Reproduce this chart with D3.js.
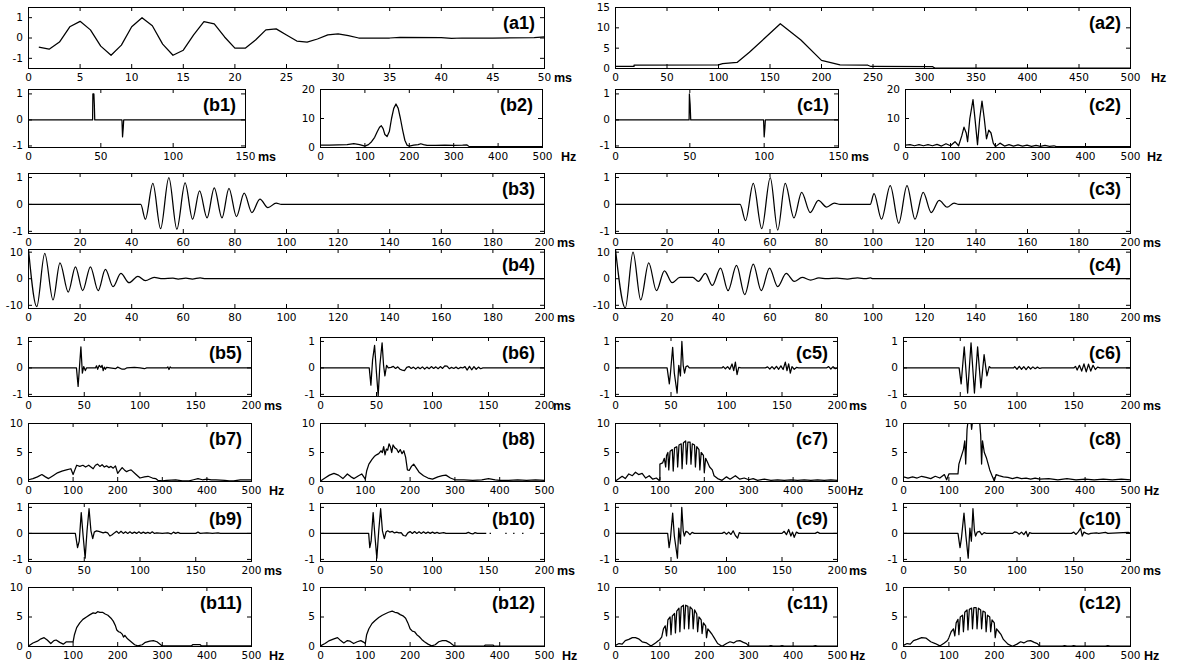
<!DOCTYPE html>
<html>
<head>
<meta charset="utf-8">
<script src="https://cdn.jsdelivr.net/npm/d3@7"></script>
<style>
  body { margin: 0; background: #fff; }
  svg { display: block; }
  .tick text { font-family: "DejaVu Sans", sans-serif; font-size: 10.5px; fill: #000; }
  .tick line { stroke: #000; }
  .unit { font-family: "Liberation Sans", Arial, sans-serif; font-weight: bold; font-size: 12.5px; fill: #000; }
  .plabel { font-family: "Liberation Sans", Arial, sans-serif; font-weight: bold; font-size: 18px; fill: #000; }
</style>
</head>
<body>
<svg id="fig" width="1184" height="670"></svg>
<script>
// ---- tick values ----
const ticksMs50 = [0, 5, 10, 15, 20, 25, 30, 35, 40, 45, 50];
const ticksHz500by50 = [0, 50, 100, 150, 200, 250, 300, 350, 400, 450, 500];
const ticksMs150 = [0, 50, 100, 150];
const ticksMs200by20 = [0, 20, 40, 60, 80, 100, 120, 140, 160, 180, 200];
const ticksMs200by50 = [0, 50, 100, 150, 200];
const ticksHz500by100 = [0, 100, 200, 300, 400, 500];
const ticksUnit = [-1, 0, 1];
const ticksAmp15 = [0, 5, 10, 15];
const ticksAmp20 = [0, 10, 20];
const ticksAmp10 = [-10, 0, 10];
const ticksSpec10 = [0, 5, 10];

// ---- series: [time ms | frequency Hz, value] ----
const a1 = [[1,-0.45],[2,-0.55],[3,-0.2],[4,0.55],[5,0.82],[6,0.4],[7,-0.4],[8,-0.85],[9,-0.35],[10,0.55],
  [11,1.0],[12,0.6],[13,-0.3],[14,-0.85],[15,-0.6],[16,0.15],[17,0.8],[18,0.7],[19,0.05],[20,-0.5],
  [21,-0.5],[22,-0.1],[23,0.4],[24,0.45],[25,0.15],[26,-0.15],[27,-0.2],[28,-0.05],[29,0.15],[30,0.2],
  [31,0.12],[32,0.0],[35,0.0],[36,0.03],[40,0.02],[41,-0.02],[42,0.0],[45,0.0],[49,0.02],[50,0.05]];
const a2 = [[0,0.5],[18,0.5],[18,0.85],[100,0.9],[104,1.2],[118,1.5],[130,4],[145,7.5],[160,11],[180,7],
  [200,2],[218,0.9],[245,0.8],[248,0.5],[308,0.45],[310,0.1],[500,0.1]];
const b1 = [[0,0],[44.3,0],[44.5,1],[45.2,1],[45.5,0.6],[45.8,0],[64.6,0],[65,-0.65],[65.5,-0.3],[65.8,0],[150,0]];
const c1 = [[0,0],[49.5,0],[49.7,1],[50.2,0.6],[50.6,0],[99.6,0],[100,-0.65],[100.5,-0.3],[100.8,0],[150,0]];
const b2 = [[0,0.8],[20,0.8],[40,0.9],[60,1.0],[75,1.3],[88,1.0],[100,0.5],[108,1.0],[115,2.0],[122,3.5],
  [128,5.5],[133,7.0],[137,7.5],[141,6.5],[145,4.5],[150,3.8],[155,5.5],[160,10],[165,13.5],[170,15],
  [175,13.5],[180,10],[185,6],[190,2.5],[195,0.8],[200,0.5],[210,0.8],[220,1.0],[226,1.3],[232,1.0],
  [240,0.7],[260,0.7],[280,0.8],[300,0.7],[320,0.8],[330,0.9],[335,0.3],[500,0.3]];
const c2 = [[0,0.8],[10,1.0],[20,0.6],[30,1.0],[40,0.6],[50,1.0],[60,0.6],[70,1.1],[80,0.5],[90,1.3],
  [100,0.6],[110,2.0],[118,0.6],[125,4],[130,7],[135,5],[138,2],[143,10],[150,16.5],[155,9],[160,1],
  [165,10],[170,16],[175,10],[180,3],[185,6],[190,5],[195,1.5],[200,0.3],[210,1.5],[220,0.5],[230,1.0],
  [240,0.5],[250,0.9],[260,0.5],[270,0.8],[280,0.4],[290,0.7],[300,0.4],[310,0.7],[320,0.4],[330,0.6],
  [335,0.3],[500,0.3]];
const b3 = [[0,0],[43.5,0],[45.3,-0.55],[48.2,0.78],[51.2,-0.9],[54.4,1.0],[57.5,-0.92],[60.7,0.8],
  [63.6,-0.55],[66.3,0.5],[69.2,-0.5],[72,0.62],[75,-0.5],[77.7,0.6],[80.6,-0.45],[83.6,0.42],
  [86.6,-0.3],[89.7,0.2],[92.8,-0.12],[96,0.05],[98,0],[200,0]];
const c3 = [[0,0],[48.4,0],[50.5,-0.6],[53.5,0.78],[56.8,-0.9],[60.1,1.0],[63,-0.95],[65.9,0.78],
  [69.3,-0.5],[72.3,0.45],[75.6,-0.3],[78.8,0.15],[82,-0.1],[85,0.05],[87.2,0],[98.9,0],[100.4,0.4],
  [103.3,-0.55],[106.7,0.7],[110,-0.7],[113.2,0.7],[116.3,-0.55],[119.5,0.45],[122.6,-0.3],[125.7,0.15],
  [128.8,-0.1],[131.5,0.05],[133.3,0],[200,0]];
const b4 = [[0,11],[3.2,-10.5],[6.3,9.5],[9.5,-8],[12.2,6],[15.4,-5],[18.2,4.5],[21,-4.5],[24,4.5],
  [27,-4.5],[29.8,3.5],[32.8,-3],[35.8,2],[39,-1.5],[42.4,0.9],[45.3,-0.7],[48.7,0.5],[52,0],[56,0.2],
  [58,-0.1],[61,0.25],[63.5,-0.1],[66.5,0.3],[68.7,0],[200,0]];
const c4 = [[0,11],[3.8,-11],[6.8,10],[9.8,-8],[12.9,6],[15.9,-4.5],[19,3],[22,-1.5],[25,0.5],[30,0.5],
  [32.2,-1],[34.9,2],[37.6,-2.5],[40.8,4],[43.7,-4.5],[47,5],[50.2,-6],[53.5,5.5],[56.6,-4.5],[59.8,4],
  [63,-3],[66.3,2],[69.4,-1],[72.5,0.5],[75.8,-0.5],[79,0.3],[82,0],[86,0.2],[90,-0.1],[94,0.3],[97,0],
  [99,0.3],[100,0],[200,0]];
const b5 = [[0,0],[43,0],[44.5,-0.7],[45.5,-0.1],[47,0.8],[48.3,-0.2],[49.5,0.05],[51,-0.1],[52,0],
  [60,0],[61,0.08],[62,-0.05],[63.5,0.1],[65,0.02],[66,0.1],[67,-0.1],[68,0.03],[69,-0.05],[70,0.02],
  [73,0],[78,-0.03],[80,0.03],[84,-0.05],[86,-0.05],[88,0],[95,0.02],[100,0],[104,-0.03],[106,0],
  [124,0],[125,0.04],[126,-0.06],[127,0.04],[128,0],[200,0]];
const b6 = [[0,0],[43.5,0],[45,-0.65],[46.5,0.3],[48.3,0.85],[50,-0.2],[51.5,-1.05],[53,0.1],[55,0.95],
  [56.3,0.1],[57.5,-0.3],[59,0.1],[60.5,0],[63,0.02],[65,0.06],[67,-0.02],[69,0.04],[71,-0.05],
  [73,-0.08],[75,-0.1],[77,0.02],[79,0.05],[81,-0.02],[83,0.03],[85,-0.04],[87,0.03],[89,-0.03],
  [91,0.04],[93,-0.04],[95,0.03],[97,-0.03],[99,0.05],[101,-0.02],[103,0.04],[105,-0.03],[107,0.05],
  [109,-0.02],[111,0.08],[113,0.07],[115,-0.03],[117,0.02],[119,-0.02],[121,0.03],[123,-0.03],[125,0.02],
  [127,0],[129,0.05],[131,-0.08],[133,0.06],[135,-0.07],[137,0.05],[139,-0.05],[141,0.03],[143,-0.03],
  [145,0],[200,0]];
const c5 = [[0,0],[46.5,0],[48.5,-0.6],[49.5,-0.2],[51.5,0.78],[53,-0.2],[55.5,-0.95],[57,0.1],
  [58.5,-0.3],[59.8,1.0],[61,0.1],[62.2,-0.2],[63.5,0.05],[65,0.08],[66.5,0],[96,0],[97,0.05],[99,-0.03],
  [101,0.05],[103,-0.05],[105,0.15],[106.5,-0.1],[108,0.22],[109.5,-0.25],[111,0.02],[113,0],[135,0],
  [137,0.04],[139,-0.04],[141,0.05],[143,-0.04],[145,0.06],[147,-0.05],[149,0.08],[151,-0.06],[153,0.22],
  [154.5,-0.1],[156,0.15],[157.5,-0.2],[159,0.05],[161,-0.05],[163,0.02],[165,0],[190,0],[192,0.05],
  [194,-0.04],[196,0.05],[198,-0.03],[200,0]];
const c6 = [[0,0],[49,0],[50.8,-0.6],[53.5,0.8],[56.5,-0.95],[59.5,0.95],[62.5,-0.95],[65.3,0.8],
  [68.2,-0.75],[71,0.5],[73.5,-0.3],[75.5,0.05],[77,0],[97,0],[98,0.05],[100,-0.05],[102,0.06],[104,-0.05],
  [106,0.05],[108,-0.06],[110,0.05],[112,-0.04],[114,0.04],[116,-0.03],[118,0.03],[120,-0.02],[122,0],
  [150,0],[151.5,0.06],[153,-0.08],[155,0.1],[157,-0.12],[159,0.15],[161,-0.15],[163,0.14],[165,-0.12],
  [167,0.1],[169,-0.06],[171,0.03],[173,0],[200,0]];
const b7 = [[0,0.3],[10,0.5],[20,0.8],[30,1.2],[38,0.8],[45,0.5],[55,1.0],[65,1.5],[75,1.8],[85,2.0],
  [95,2.2],[100,1.2],[104,2.0],[108,2.8],[115,2.6],[122,2.8],[128,2.5],[135,2.8],[140,2.5],[145,2.2],
  [150,2.8],[155,3.0],[160,2.6],[165,2.9],[170,2.5],[175,2.7],[180,2.4],[185,2.6],[190,2.3],[195,2.7],
  [200,1.4],[205,1.9],[210,2.4],[215,2.0],[220,1.7],[225,1.9],[230,2.0],[240,1.3],[250,0.6],[260,0.8],
  [268,0.9],[278,0.6],[285,0.5],[290,0.2],[300,0.1],[310,0.2],[330,0.3],[345,0.1],[360,0.1],[370,0.3],
  [380,0.5],[390,0.3],[400,0.4],[410,0.3],[420,0.3],[440,0.2],[450,0.1],[460,0.1],[475,0.3],[490,0.3],
  [500,0.3]];
const b8 = [[0,0.1],[10,0.6],[20,1.1],[30,1.4],[40,1.1],[50,0.5],[60,1.3],[68,0.8],[75,0.5],[85,1.0],
  [92,1.3],[100,0.4],[103,1.8],[108,3.0],[115,3.8],[120,4.3],[125,4.6],[130,4.8],[135,5.3],[138,5.0],
  [141,6.0],[144,4.6],[147,5.6],[150,5.4],[153,6.5],[156,6.0],[159,5.0],[162,6.3],[166,5.8],[170,5.6],
  [174,5.0],[178,5.5],[182,4.8],[186,5.3],[190,4.2],[194,2.0],[198,1.9],[203,2.6],[208,3.0],[214,2.3],
  [220,1.6],[230,1.0],[240,0.6],[250,0.4],[262,0.8],[272,1.0],[280,1.1],[290,0.6],[300,0.3],[320,0.3],
  [340,0.2],[360,0.3],[375,0.5],[390,0.3],[400,0.2],[420,0.2],[440,0.3],[460,0.2],[480,0.3],[500,0.2]];
const c7 = [[0,0.1],[8,0.5],[15,0.9],[22,0.5],[30,1.3],[38,1.0],[45,1.6],[52,1.2],[60,1.4],[68,0.6],
  [76,1.0],[84,0.4],[92,0.6],[98,0.2],[100,0.3],[100,3],[106,3.2],[110,4],[113,2.5],[115,4.5],[118,5],
  [120,2],[123,5.2],[128,5.5],[130,1.8],[133,5.8],[138,6],[140,2.5],[143,6.3],[148,6.5],[150,2.2],
  [153,6.7],[158,7],[160,3],[163,6.8],[168,6.8],[170,3],[173,6.5],[178,6.3],[180,2.5],[183,6],[188,5.5],
  [190,2],[193,5],[198,4.5],[200,1.5],[203,4],[208,3.2],[212,2.5],[218,2],[222,1],[230,0.5],[240,0.2],
  [250,0.8],[258,0.4],[270,1],[280,0.4],[290,0.6],[300,0.3],[310,0.5],[320,0.2],[335,0.4],[350,0.2],
  [365,0.3],[380,0.2],[395,0.3],[410,0.2],[425,0.3],[440,0.2],[455,0.3],[470,0.2],[485,0.3],[500,0.2]];
const c8 = [[0,0.8],[10,0.6],[20,0.8],[30,0.6],[40,0.9],[50,0.7],[60,0.5],[70,0.9],[80,0.6],[90,1.2],
  [95,0.3],[100,1.3],[120,1.3],[122,3],[128,4.5],[132,5.5],[135,7],[137,3],[140,9],[143,11],[147,12],
  [150,9],[153,11],[157,12],[160,11],[163,12],[167,11],[170,8],[172,3],[174,7],[178,5],[183,4],[190,2],
  [196,0.8],[200,0.1],[204,1.2],[210,1.0],[220,0.8],[230,0.7],[240,0.5],[250,0.7],[260,0.5],[270,0.6],
  [280,0.4],[290,0.6],[300,0.4],[320,0.5],[340,0.3],[360,0.5],[380,0.3],[400,0.4],[420,0.3],[440,0.4],
  [460,0.3],[480,0.4],[500,0.3]];
const b9 = [[0,0],[42,0],[44,-0.55],[45.5,-0.3],[47.3,0.8],[49,-0.1],[50.8,-0.95],[52.5,0.1],[54.3,0.95],
  [56,0.1],[57.6,-0.2],[59,0.05],[61,0.1],[63,0.08],[65,0.05],[67,0.02],[69,0.05],[71,0.02],[73,-0.1],
  [75,-0.05],[77,0.02],[79,0.08],[81,0],[83,0.08],[85,0],[87,0.06],[89,0],[91,0.06],[93,0],[95,0.05],
  [97,0],[99,0.06],[101,0],[103,0.05],[105,0],[107,0.04],[109,0],[111,0.06],[113,0],[115,0.02],[120,0],
  [125,0.02],[128,-0.02],[130,0.05],[132,0],[134,0.04],[136,0],[150,0],[152,0.05],[154,0],[160,0.02],
  [165,0],[170,0.02],[172,0],[200,0]];
const b10 = [[0,0],[43,0],[44,-0.55],[45.2,-0.3],[47,0.8],[48.6,-0.1],[50.3,-0.95],[52,0.1],[53.7,0.95],
  [55.3,0.1],[57,-0.2],[58.5,0.05],[60,0.1],[62,0.05],[64,0.08],[66,0.02],[68,0.05],[70,0.02],[72,0.03],
  [74,-0.08],[76,-0.1],[78,0.02],[80,0.07],[82,0],[84,0.07],[86,0],[88,0.06],[90,0],[92,0.06],[94,0],
  [96,0.05],[98,0],[100,0.05],[102,0],[104,0.04],[106,0],[110,0.03],[112,0],[130,0],[132,0.04],[134,0],
  [136,-0.02],[138,0.03],[140,0],[148,0]];
const b10Tail = [151, 165, 172, 180];
const c9 = [[0,0],[47,0],[48.3,-0.55],[49.5,-0.2],[51.5,0.78],[53,-0.1],[55.8,-0.95],[57,0.2],[58.5,-0.4],
  [59.7,1.0],[61,0.1],[62,-0.1],[63.5,0.08],[65,0.05],[67,-0.05],[69,0.04],[71,0],[96,0],[98,0.05],
  [100,-0.03],[102,0.05],[104,-0.04],[106,0.1],[108,-0.08],[110,-0.18],[111.5,0.03],[113,0],[150,0],
  [152,0.08],[154,-0.05],[156,0.15],[158,-0.1],[159.5,0.05],[161,-0.15],[163,0.05],[165,0],[180,0],
  [182,0.05],[184,0],[200,0]];
const c10 = [[0,0],[48,0],[49.8,-0.55],[51,-0.2],[53.3,0.78],[55,-0.1],[57,-0.95],[58.5,0.2],[59.8,-0.3],
  [61.2,0.95],[62.5,0.1],[63.5,-0.1],[65,0.05],[67,0.08],[69,-0.05],[71,0.03],[73,0],[96,0],[98,0.06],
  [100,0.04],[102,-0.03],[104,0.05],[106,-0.05],[108,0.08],[109.5,-0.12],[111,0.03],[113,0],[148,0],
  [150,0.05],[152,-0.04],[154,0.06],[156,0.2],[157.5,-0.1],[159,0.05],[161,0],[163,-0.03],[165,0],
  [170,0.02],[172,0],[178,0.04],[180,0],[198,0.04],[200,0]];
const b11 = [[0,0.1],[10,0.6],[20,0.9],[28,1.3],[35,1.5],[42,1.1],[50,0.5],[57,1.0],[62,1.1],[70,0.7],
  [78,0.4],[85,0.8],[95,0.8],[100,0.8],[103,2.0],[108,3.2],[115,4.0],[122,4.6],[130,5.0],[138,5.4],
  [145,5.7],[150,5.6],[155,5.9],[160,5.8],[166,5.8],[172,5.5],[178,5.3],[185,4.8],[190,4.3],[195,3.5],
  [198,2.8],[202,2.5],[206,2.4],[210,2.1],[213,1.6],[216,1.9],[222,1.3],[230,0.8],[238,0.3],[245,0.1],
  [255,0.3],[262,0.7],[272,0.9],[280,1.0],[288,0.8],[295,0.4],[300,0.1],[365,0.1],[368,0.3],[385,0.3],
  [388,0.1],[500,0.1]];
const b12 = [[0,0.1],[10,0.5],[20,1.0],[30,1.3],[38,1.5],[45,1.0],[52,0.6],[60,1.0],[66,0.9],[74,0.5],
  [82,0.8],[90,1.0],[97,0.7],[100,0.5],[103,2.0],[108,3.0],[115,3.9],[122,4.4],[130,4.9],[138,5.3],
  [146,5.6],[152,5.8],[160,6.0],[166,5.8],[172,5.7],[178,5.4],[184,5.2],[190,4.8],[195,4.0],[200,3.0],
  [205,2.6],[210,2.5],[215,2.0],[220,1.7],[226,1.2],[232,0.8],[240,0.4],[248,0.1],[256,0.3],[264,0.8],
  [272,1.0],[280,1.0],[288,0.7],[295,0.3],[300,0.05],[365,0.05],[368,0.25],[385,0.25],[388,0.05],[500,0.05]];
const c11 = [[0,0.2],[8,0.5],[15,0.4],[22,1],[30,1.2],[38,1.5],[45,1.5],[52,1.3],[60,0.8],[70,0.6],
  [80,0.1],[90,0.6],[97,1],[100,1.2],[104,1.6],[108,3],[112,3.5],[115,1.8],[118,4.5],[123,5],[125,2],
  [128,5.2],[133,5.6],[135,2.3],[138,6],[143,6.5],[145,2.5],[148,6.7],[153,7],[155,3],[158,7],[163,6.8],
  [165,3],[168,6.7],[173,6.3],[175,3],[178,6.2],[183,5.5],[185,2.5],[188,5],[193,4.5],[195,2.2],[198,4],
  [203,3.5],[205,1.5],[208,3],[213,2.5],[218,2],[222,1.5],[230,0.5],[240,0.05],[250,0.5],[258,0.8],
  [266,0.6],[272,0.9],[280,1],[288,0.7],[295,0.5],[300,0.05],[345,0.05],[350,0.15],[355,0.05],[370,0.05],
  [375,0.15],[380,0.05],[445,0.05],[450,0.15],[455,0.05],[500,0.05]];
const c12 = [[0,0.2],[8,0.5],[15,0.4],[22,1],[30,1.2],[40,1.5],[50,1.4],[60,0.8],[70,0.5],[80,0.1],
  [90,0.6],[97,1],[100,1.5],[105,2.5],[110,3],[113,1.8],[116,4],[120,4.6],[122,2],[125,5],[130,5.3],
  [132,2.5],[135,5.8],[140,6.2],[142,2.8],[145,6.3],[150,6.5],[152,3],[155,6.6],[160,6.6],[162,3],
  [165,6.5],[170,6.2],[172,3],[175,6],[180,5.8],[182,2.5],[185,5.3],[190,5],[192,2.5],[195,4.5],[200,4],
  [202,1.5],[205,3],[210,2.5],[215,2],[220,1.2],[230,0.4],[240,0.05],[250,0.4],[258,0.8],[265,0.6],
  [272,0.9],[280,1],[288,0.7],[295,0.5],[300,0.05],[350,0.05],[355,0.15],[360,0.05],[370,0.05],[375,0.15],
  [380,0.05],[445,0.05],[450,0.15],[455,0.05],[500,0.05]];

// ---- panel layout: box = [left, top, width, height] ----
const yUnit = [-1.08, 1.15];
const ySpec = [0, 10];
const ySig10 = [-11.2, 11];
const panels = [
  { key: 'a1', data: a1, box: [28, 7, 516, 61], xd: [0, 50], yd: [-1.5, 1.5], xt: ticksMs50, yt: ticksUnit, unit: 'ms', udx: 10 },
  { key: 'a2', data: a2, box: [615, 7, 515, 61], xd: [0, 500], yd: [0, 15], xt: ticksHz500by50, yt: ticksAmp15, unit: 'Hz', udx: 21 },
  { key: 'b1', data: b1, box: [28, 89, 217, 58], xd: [0, 150], yd: [-1.06, 1.17], xt: ticksMs150, yt: ticksUnit, unit: 'ms', udx: 13 },
  { key: 'b2', data: b2, box: [320, 89, 222, 58], xd: [0, 500], yd: [0, 20], xt: ticksHz500by100, yt: ticksAmp20, unit: 'Hz', udx: 19 },
  { key: 'c1', data: c1, box: [615, 89, 223, 58], xd: [0, 150], yd: [-1.06, 1.17], xt: ticksMs150, yt: ticksUnit, unit: 'ms', udx: 13 },
  { key: 'c2', data: c2, box: [905, 89, 225, 58], xd: [0, 500], yd: [0, 20], xt: ticksHz500by100, yt: ticksAmp20, unit: 'Hz', udx: 17 },
  { key: 'b3', data: b3, box: [28, 173, 516, 60], xd: [0, 200], yd: yUnit, xt: ticksMs200by20, yt: ticksUnit, unit: 'ms', udx: 13, smooth: true },
  { key: 'c3', data: c3, box: [615, 173, 515, 60], xd: [0, 200], yd: yUnit, xt: ticksMs200by20, yt: ticksUnit, unit: 'ms', udx: 13, smooth: true },
  { key: 'b4', data: b4, box: [28, 249, 516, 59], xd: [0, 200], yd: ySig10, xt: ticksMs200by20, yt: ticksAmp10, unit: 'ms', udx: 13, smooth: true },
  { key: 'c4', data: c4, box: [615, 249, 515, 59], xd: [0, 200], yd: ySig10, xt: ticksMs200by20, yt: ticksAmp10, unit: 'ms', udx: 13, smooth: true },
  { key: 'b5', data: b5, box: [28, 337, 223, 59], xd: [0, 200], yd: yUnit, xt: ticksMs200by50, yt: ticksUnit, unit: 'ms', udx: 13 },
  { key: 'b6', data: b6, box: [320, 337, 224, 59], xd: [0, 200], yd: yUnit, xt: ticksMs200by50, yt: ticksUnit, unit: 'ms', udx: 9 },
  { key: 'c5', data: c5, box: [615, 337, 222, 59], xd: [0, 200], yd: yUnit, xt: ticksMs200by50, yt: ticksUnit, unit: 'ms', udx: 12 },
  { key: 'c6', data: c6, box: [903, 337, 227, 59], xd: [0, 200], yd: yUnit, xt: ticksMs200by50, yt: ticksUnit, unit: 'ms', udx: 13 },
  { key: 'b7', data: b7, box: [28, 423, 223, 58], xd: [0, 500], yd: ySpec, xt: ticksHz500by100, yt: ticksSpec10, unit: 'Hz', udx: 18 },
  { key: 'b8', data: b8, box: [320, 423, 224, 58], xd: [0, 500], yd: ySpec, xt: ticksHz500by100, yt: ticksSpec10, unit: null },
  { key: 'c7', data: c7, box: [615, 423, 222, 58], xd: [0, 500], yd: ySpec, xt: ticksHz500by100, yt: ticksSpec10, unit: 'Hz', udx: 11 },
  { key: 'c8', data: c8, box: [903, 423, 227, 58], xd: [0, 500], yd: ySpec, xt: ticksHz500by100, yt: ticksSpec10, unit: 'Hz', udx: 14 },
  { key: 'b9', data: b9, box: [28, 503, 223, 58], xd: [0, 200], yd: yUnit, xt: ticksMs200by50, yt: ticksUnit, unit: 'ms', udx: 13 },
  { key: 'b10', data: b10, box: [320, 503, 224, 58], xd: [0, 200], yd: yUnit, xt: ticksMs200by50, yt: ticksUnit, unit: 'ms', udx: 13 },
  { key: 'c9', data: c9, box: [615, 503, 222, 58], xd: [0, 200], yd: yUnit, xt: ticksMs200by50, yt: ticksUnit, unit: 'ms', udx: 12 },
  { key: 'c10', data: c10, box: [903, 503, 227, 58], xd: [0, 200], yd: yUnit, xt: ticksMs200by50, yt: ticksUnit, unit: 'ms', udx: 13 },
  { key: 'b11', data: b11, box: [28, 587, 223, 59], xd: [0, 500], yd: ySpec, xt: ticksHz500by100, yt: ticksSpec10, unit: 'Hz', udx: 18 },
  { key: 'b12', data: b12, box: [320, 587, 224, 59], xd: [0, 500], yd: ySpec, xt: ticksHz500by100, yt: ticksSpec10, unit: 'Hz', udx: 18 },
  { key: 'c11', data: c11, box: [615, 587, 222, 59], xd: [0, 500], yd: ySpec, xt: ticksHz500by100, yt: ticksSpec10, unit: 'Hz', udx: 13 },
  { key: 'c12', data: c12, box: [903, 587, 227, 59], xd: [0, 500], yd: ySpec, xt: ticksHz500by100, yt: ticksSpec10, unit: 'Hz', udx: 14 }
];

const svg = d3.select('#fig');
const plain = d => String(d);

panels.forEach(p => {
  const [bx, by, bw, bh] = p.box;
  const g = svg.append('g').attr('transform', `translate(${bx},${by})`);
  const x = d3.scaleLinear().domain(p.xd).range([0, bw]);
  const y = d3.scaleLinear().domain(p.yd).range([bh, 0]);

  const clipId = 'clip-' + p.key;
  g.append('clipPath').attr('id', clipId)
    .append('rect').attr('x', 0).attr('y', 0).attr('width', bw + 1).attr('height', bh + 1);

  const line = d3.line()
    .x(d => x(d[0]))
    .y(d => y(d[1]))
    .curve(p.smooth ? d3.curveMonotoneX : d3.curveLinear);

  const plot = g.append('g').attr('clip-path', `url(#${clipId})`).attr('transform', 'translate(0.5,0.5)');
  plot.append('path')
    .datum(p.data)
    .attr('d', line)
    .attr('fill', 'none')
    .attr('stroke', '#000')
    .attr('stroke-width', 1.25)
    .attr('stroke-linejoin', 'round');

  if (p.key === 'b10') {
    // broken trailing samples drawn as short dashes on the zero line
    plot.selectAll('line.tail').data(b10Tail).join('line')
      .attr('class', 'tail')
      .attr('x1', d => x(d)).attr('x2', d => x(d + 1.2))
      .attr('y1', y(0)).attr('y2', y(0))
      .attr('stroke', '#000').attr('stroke-width', 1.25);
  }

  const addAxis = (axis, tr) => {
    const a = g.append('g').attr('transform', tr).call(axis);
    a.select('.domain').remove();
    return a;
  };
  addAxis(d3.axisBottom(x).tickValues(p.xt).tickSize(-4).tickPadding(6).tickFormat(plain), `translate(0,${bh})`);
  addAxis(d3.axisTop(x).tickValues(p.xt).tickSize(-4).tickFormat(''), 'translate(0,0)');
  addAxis(d3.axisLeft(y).tickValues(p.yt).tickSize(-4).tickPadding(5).tickFormat(plain), 'translate(0,0)');
  addAxis(d3.axisRight(y).tickValues(p.yt).tickSize(-4).tickFormat(''), `translate(${bw},0)`);

  g.append('rect')
    .attr('x', 0.5).attr('y', 0.5)
    .attr('width', bw).attr('height', bh)
    .attr('fill', 'none').attr('stroke', '#000').attr('stroke-width', 1);

  g.append('text')
    .attr('class', 'plabel')
    .attr('x', bw - 9).attr('y', 22)
    .attr('text-anchor', 'end')
    .text(`(${p.key})`);

  if (p.unit) {
    g.append('text')
      .attr('class', 'unit')
      .attr('x', bw + p.udx).attr('y', bh + 14)
      .text(p.unit);
  }
});
</script>
</body>
</html>
